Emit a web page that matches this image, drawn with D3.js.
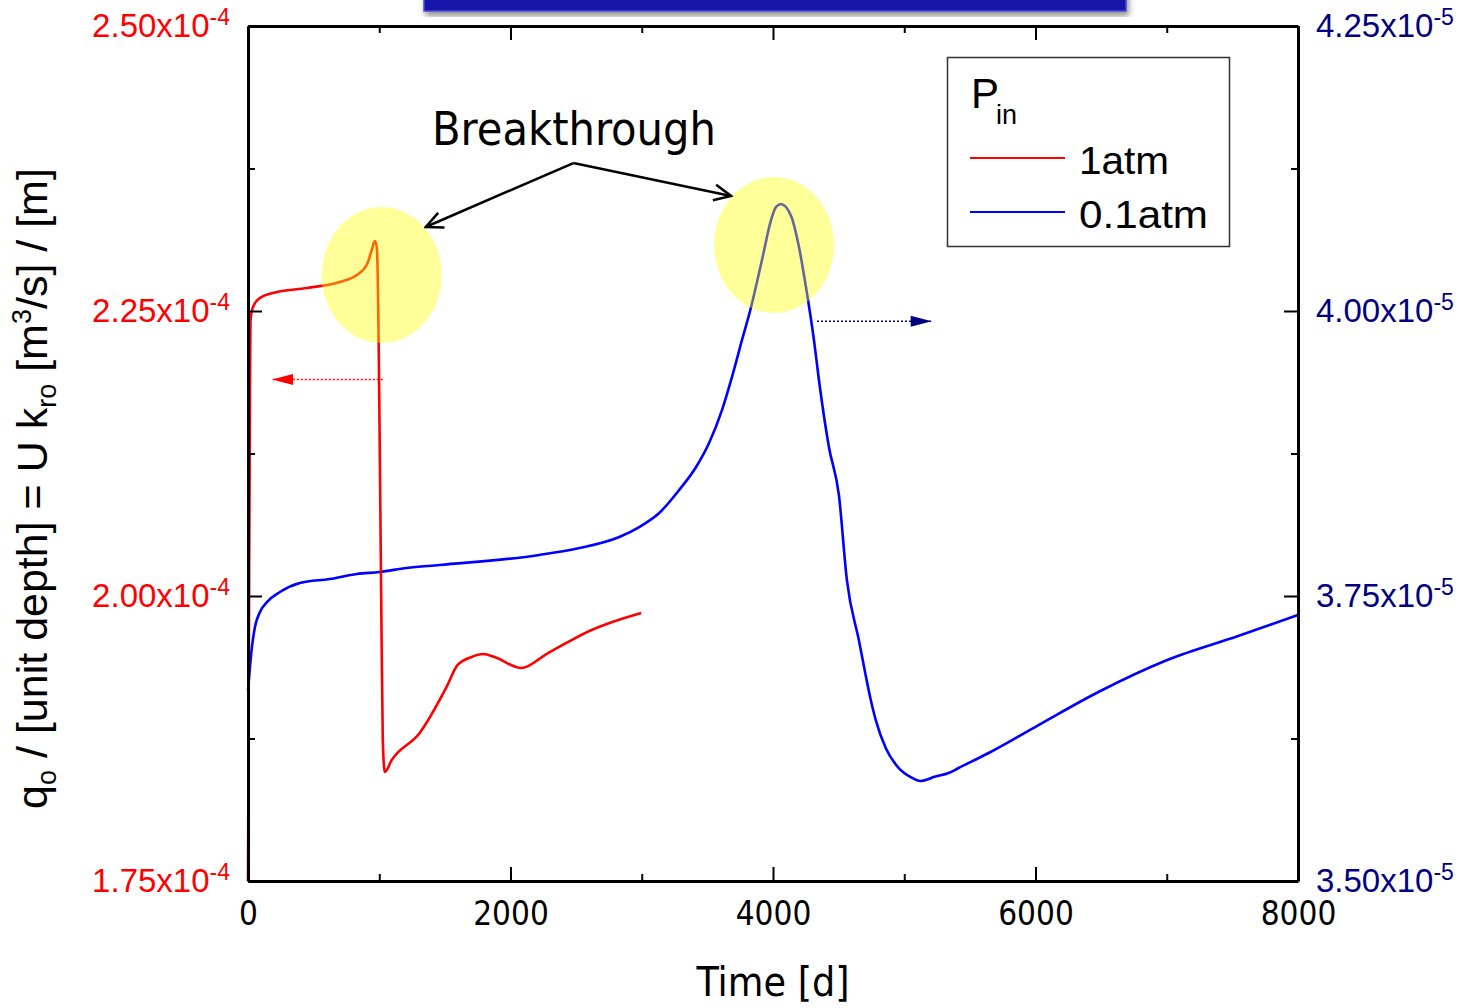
<!DOCTYPE html>
<html>
<head>
<meta charset="utf-8">
<script src="https://cdn.jsdelivr.net/npm/d3@7"></script>
<style>
  body { margin: 0; background: #fff; }
  svg { display: block; }
</style>
</head>
<body>
<div id="chart"></div>
<script>
// Data
// 1 atm inlet pressure, left axis (units of 1e-4 m^3/s per m)
const time1atm = [0, 8, 15, 19, 38, 91, 190, 449, 700, 829, 905, 943, 966, 981, 989, 996, 1004, 1015, 1027, 1042,
                  1095, 1308, 1513, 1597, 1703, 1795, 1878, 2084, 2274, 2426, 2601, 2776, 2996];
const q1atm = [1.75, 1.9965, 2.178, 2.242, 2.2535, 2.2614, 2.2658, 2.2702, 2.2754, 2.2816, 2.2904, 2.3035, 2.3114,
               2.3061, 2.2772, 2.2184, 2.128, 1.9965, 1.8737, 1.8456, 1.8561, 1.8798, 1.9202, 1.9395, 1.9465,
               1.9491, 1.9465, 1.9368, 1.9491, 1.9588, 1.9693, 1.9772, 1.9851];

// 0.1 atm inlet pressure, right axis (units of 1e-5)
const time01atm = [0, 15, 30, 53, 91, 144, 243, 395, 624, 829, 1004, 1209, 1460, 2221, 2525, 2829, 2981, 3133,
                   3285, 3414, 3513, 3612, 3681, 3764, 3833, 3916, 3985, 4023, 4061, 4099, 4144, 4198, 4251, 4312,
                   4350, 4426, 4502, 4563, 4654, 4745, 4783, 4859, 4958, 5049, 5125, 5186, 5224, 5338, 5414, 5643,
                   6023, 6479, 7004, 7544, 8000];
const q01atm = [3.6675, 3.6877, 3.7053, 3.7228, 3.7360, 3.7447, 3.7535, 3.7614, 3.7649, 3.7693, 3.7711, 3.7746,
                3.7772, 3.7860, 3.7921, 3.8018, 3.8105, 3.8228, 3.8430, 3.8632, 3.8842, 3.9132, 3.9395, 3.9746,
                4.0035, 4.0447, 4.0798, 4.0912, 4.0939, 4.0912, 4.0816, 4.0561, 4.0211, 3.9746, 3.9395, 3.8807,
                3.8386, 3.7640, 3.7114, 3.6588, 3.6412, 3.6167, 3.5991, 3.5912, 3.5877, 3.5895, 3.5912, 3.5947,
                3.5991, 3.6123, 3.6368, 3.6658, 3.6939, 3.7149, 3.7333];

const xTicks = [0, 2000, 4000, 6000, 8000];
const xMinor = [1000, 3000, 5000, 7000];
const yLeftTicks = [1.75, 2.00, 2.25, 2.50];
const yLeftMinor = [1.875, 2.125, 2.375];
const yRightTicks = [3.50, 3.75, 4.00, 4.25];
const yRightMinor = [3.625, 3.875, 4.125];
const legendLabels = ["1atm", "0.1atm"];

// Set up SVG canvas
const width = 1470, height = 1008;
const margin = { left: 248, right: 170, top: 26, bottom: 127 };

const svg = d3.select("#chart")
    .append("svg")
    .attr("width", width)
    .attr("height", height);

const defs = svg.append("defs");
defs.append("filter").attr("id", "shadow")
    .append("feDropShadow")
    .attr("dx", 2).attr("dy", 4).attr("stdDeviation", 3)
    .attr("flood-color", "#000").attr("flood-opacity", 0.45);

function triangleMarker(id, color) {
    defs.append("marker")
        .attr("id", id)
        .attr("viewBox", "-22 -6 24 12")
        .attr("markerUnits", "userSpaceOnUse")
        .attr("markerWidth", 24).attr("markerHeight", 12)
        .attr("refX", 0).attr("refY", 0)
        .attr("orient", "auto")
        .append("path")
        .attr("d", "M0,0 L-21,-5.5 L-21,5.5 Z")
        .attr("fill", color);
}
triangleMarker("triRed", "#ff0000");
triangleMarker("triNavy", "#000080");

defs.append("marker")
    .attr("id", "openArrow")
    .attr("viewBox", "-20 -10 22 20")
    .attr("markerUnits", "userSpaceOnUse")
    .attr("markerWidth", 22).attr("markerHeight", 20)
    .attr("refX", 0).attr("refY", 0)
    .attr("orient", "auto")
    .append("path")
    .attr("d", "M-17,-8 L0,0 L-17,8")
    .attr("fill", "none")
    .attr("stroke", "#000")
    .attr("stroke-width", 2.5);

// Cut-off title banner at the top
svg.append("rect")
    .attr("x", 424).attr("y", -40)
    .attr("width", 702).attr("height", 51)
    .attr("fill", "#1616aa")
    .attr("stroke", "#4a4ad0")
    .attr("stroke-width", 1.5)
    .attr("filter", "url(#shadow)");

// Scales
const x = d3.scaleLinear().domain([0, 8000]).range([margin.left, width - margin.right - 2]);
const yL = d3.scaleLinear().domain([1.75, 2.50]).range([height - margin.bottom, margin.top]);
const yR = d3.scaleLinear().domain([3.50, 4.25]).range([height - margin.bottom, margin.top]);

const x0 = x.range()[0], x1 = x.range()[1];
const yB = yL.range()[0], yT = yL.range()[1];

// Lines
const redLine = d3.line()
    .x((d, i) => x(time1atm[i]))
    .y(d => yL(d))
    .curve(d3.curveMonotoneX);

const blueLine = d3.line()
    .x((d, i) => x(time01atm[i]))
    .y(d => yR(d))
    .curve(d3.curveMonotoneX);

svg.append("path")
    .attr("d", blueLine(q01atm))
    .attr("fill", "none")
    .attr("stroke", "#0000ff")
    .attr("stroke-width", 2.6);

svg.append("path")
    .attr("d", redLine(q1atm))
    .attr("fill", "none")
    .attr("stroke", "#ff0000")
    .attr("stroke-width", 2.6);

// Highlight ellipses over the breakthrough peaks
svg.append("ellipse")
    .attr("cx", x(1019)).attr("cy", yL(2.2816))
    .attr("rx", 60).attr("ry", 68)
    .attr("fill", "#ffff00").attr("fill-opacity", 0.4);

svg.append("ellipse")
    .attr("cx", x(4008)).attr("cy", yR(4.0579))
    .attr("rx", 60).attr("ry", 68)
    .attr("fill", "#ffff00").attr("fill-opacity", 0.4);

// Dotted arrows pointing to each series' axis
svg.append("line")
    .attr("x1", x(1027)).attr("y1", yL(2.19))
    .attr("x2", x(183)).attr("y2", yL(2.19))
    .attr("stroke", "#ff0000").attr("stroke-width", 1.5)
    .attr("stroke-dasharray", "2,2")
    .attr("marker-end", "url(#triRed)");

svg.append("line")
    .attr("x1", x(4335)).attr("y1", yR(3.991))
    .attr("x2", x(5209)).attr("y2", yR(3.991))
    .attr("stroke", "#000080").attr("stroke-width", 1.5)
    .attr("stroke-dasharray", "2,2")
    .attr("marker-end", "url(#triNavy)");

// Breakthrough annotation
svg.append("text")
    .attr("x", 432).attr("y", 145)
    .attr("font-family", "'DejaVu Sans Condensed', 'DejaVu Sans', sans-serif")
    .attr("font-stretch", "condensed")
    .attr("font-size", 47)
    .attr("textLength", 284)
    .attr("lengthAdjust", "spacingAndGlyphs")
    .text("Breakthrough");

[[1354, 2.3237], [3681, 2.3509]].forEach(([t, v]) => {
    svg.append("line")
        .attr("x1", x(2479)).attr("y1", yL(2.3798))
        .attr("x2", x(t)).attr("y2", yL(v))
        .attr("stroke", "#000").attr("stroke-width", 2.5)
        .attr("marker-end", "url(#openArrow)");
});

// Axes: ticks point inward on all four sides
function styleAxis(g) {
    g.selectAll("path, line").attr("stroke", "#000");
    g.select(".domain").attr("stroke-width", 3);
    g.selectAll(".tick line").attr("stroke-width", 2);
}

svg.append("g")
    .attr("transform", `translate(0,${yB})`)
    .call(d3.axisBottom(x).tickValues(xTicks).tickSizeInner(-14).tickSizeOuter(0).tickPadding(21)
        .tickFormat(d3.format("d")))
    .call(styleAxis)
    .call(g => g.selectAll(".tick text")
        .attr("font-family", "'DejaVu Sans Condensed', 'DejaVu Sans', sans-serif")
        .attr("font-stretch", "condensed")
        .attr("font-size", 33)
        .attr("fill", "#000"));

svg.append("g")
    .attr("transform", `translate(0,${yB})`)
    .call(d3.axisBottom(x).tickValues(xMinor).tickSize(-7).tickFormat(""))
    .call(styleAxis)
    .call(g => g.select(".domain").remove());

svg.append("g")
    .attr("transform", `translate(0,${yT})`)
    .call(d3.axisTop(x).tickValues(xTicks).tickSizeInner(-14).tickSizeOuter(0).tickFormat(""))
    .call(styleAxis);

svg.append("g")
    .attr("transform", `translate(0,${yT})`)
    .call(d3.axisTop(x).tickValues(xMinor).tickSize(-7).tickFormat(""))
    .call(styleAxis)
    .call(g => g.select(".domain").remove());

svg.append("g")
    .attr("transform", `translate(${x0},0)`)
    .call(d3.axisLeft(yL).tickValues(yLeftTicks).tickSizeInner(-14).tickSizeOuter(0).tickFormat(""))
    .call(styleAxis);

svg.append("g")
    .attr("transform", `translate(${x0},0)`)
    .call(d3.axisLeft(yL).tickValues(yLeftMinor).tickSize(-7).tickFormat(""))
    .call(styleAxis)
    .call(g => g.select(".domain").remove());

svg.append("g")
    .attr("transform", `translate(${x1},0)`)
    .call(d3.axisRight(yR).tickValues(yRightTicks).tickSizeInner(-14).tickSizeOuter(0).tickFormat(""))
    .call(styleAxis);

svg.append("g")
    .attr("transform", `translate(${x1},0)`)
    .call(d3.axisRight(yR).tickValues(yRightMinor).tickSize(-7).tickFormat(""))
    .call(styleAxis)
    .call(g => g.select(".domain").remove());

// Tick labels with x10^n notation
function sciLabel(sel, value, exp, xPos, anchor, color) {
    const t = sel.append("text")
        .attr("x", xPos)
        .attr("text-anchor", anchor)
        .attr("font-family", "'Liberation Sans', Arial, sans-serif")
        .attr("font-size", 33)
        .attr("fill", color);
    t.append("tspan").text(value.toFixed(2) + "x10");
    t.append("tspan").attr("font-size", 23).attr("dy", -12).text(exp);
    return t;
}

yLeftTicks.forEach(v => {
    sciLabel(svg, v, "-4", x0 - 18, "end", "#ff0000").attr("y", yL(v) + 11);
});
yRightTicks.forEach(v => {
    sciLabel(svg, v, "-5", x1 + 18, "start", "#000080").attr("y", yR(v) + 11);
});

// Axis titles
svg.append("text")
    .attr("x", (x0 + x1) / 2).attr("y", 996)
    .attr("text-anchor", "middle")
    .attr("font-family", "'DejaVu Sans Condensed', 'DejaVu Sans', sans-serif")
    .attr("font-stretch", "condensed")
    .attr("font-size", 40)
    .attr("textLength", 153)
    .attr("lengthAdjust", "spacingAndGlyphs")
    .text("Time [d]");

const yTitle = svg.append("text")
    .attr("transform", `translate(47,${(yT + yB) / 2 + 35}) rotate(-90)`)
    .attr("text-anchor", "middle")
    .attr("font-family", "'Liberation Sans', Arial, sans-serif")
    .attr("font-size", 43)
    .attr("fill", "#000");
yTitle.append("tspan").text("q");
yTitle.append("tspan").attr("font-size", 27).attr("dy", 9).text("o");
yTitle.append("tspan").attr("dy", -9).text(" / [unit depth] = U k");
yTitle.append("tspan").attr("font-size", 27).attr("dy", 9).text("ro");
yTitle.append("tspan").attr("dy", -9).text(" [m");
yTitle.append("tspan").attr("font-size", 27).attr("dy", -16).text("3");
yTitle.append("tspan").attr("dy", 16).text("/s] / [m]");

// Legend
const legend = svg.append("g");
legend.append("rect")
    .attr("x", 947.5).attr("y", 57.5)
    .attr("width", 282).attr("height", 189)
    .attr("fill", "#fff")
    .attr("stroke", "#333")
    .attr("stroke-width", 1.5);

const legendTitle = legend.append("text")
    .attr("x", 971).attr("y", 108)
    .attr("font-family", "'Liberation Sans', Arial, sans-serif")
    .attr("font-size", 42);
legendTitle.append("tspan").text("P");
legendTitle.append("tspan").attr("font-size", 27).attr("dy", 16).attr("dx", -3).text("in");

const legendColors = ["#ff0000", "#0000ff"];
const legendLengths = [90, 129];
legendLabels.forEach((label, i) => {
    const ly = 158 + i * 54;
    legend.append("line")
        .attr("x1", 970).attr("x2", 1065)
        .attr("y1", ly).attr("y2", ly)
        .attr("stroke", legendColors[i])
        .attr("stroke-width", 2);
    legend.append("text")
        .attr("x", 1079).attr("y", ly + 16)
        .attr("font-family", "'Liberation Sans', Arial, sans-serif")
        .attr("font-size", 38)
        .attr("textLength", legendLengths[i])
        .attr("lengthAdjust", "spacingAndGlyphs")
        .text(label);
});
</script>
</body>
</html>
